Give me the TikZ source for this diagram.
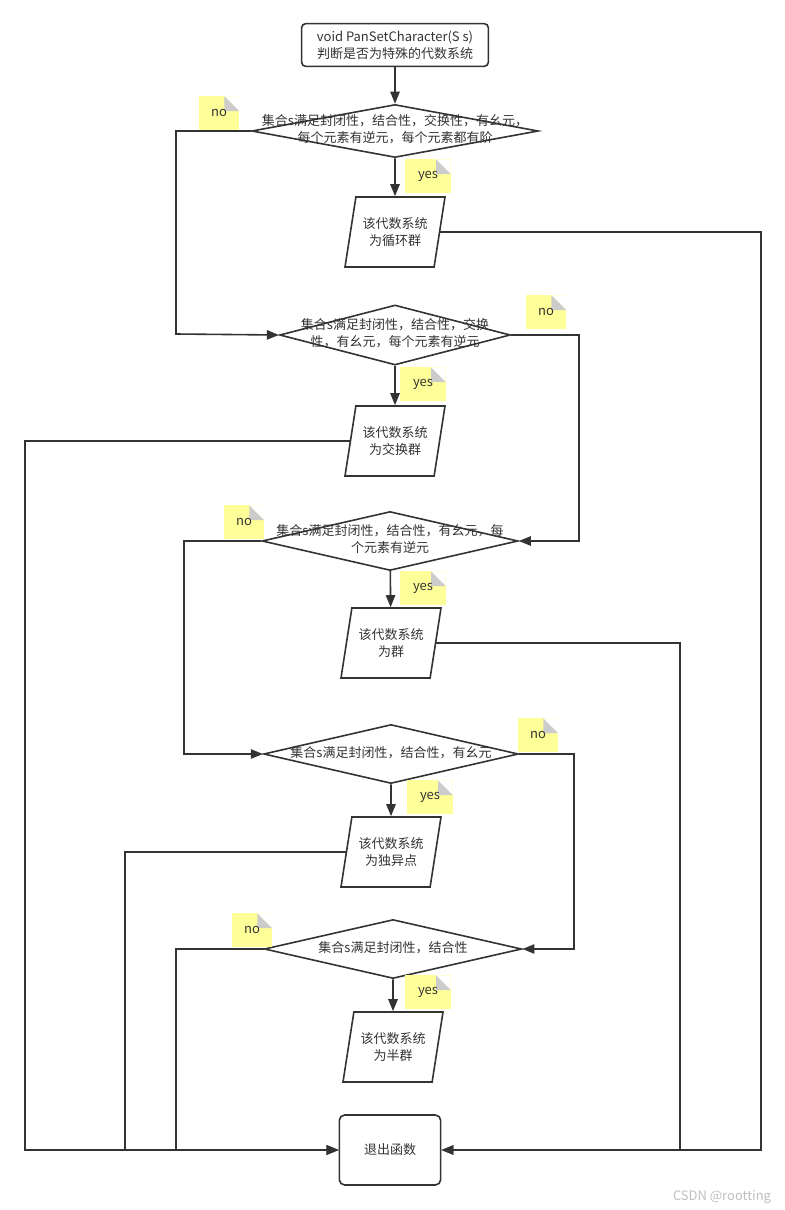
\documentclass[tikz,border=0pt]{standalone}
\usepackage{fontspec}
\setmainfont{Noto Sans CJK SC}
\usetikzlibrary{shapes.geometric,arrows.meta}

\definecolor{linegray}{HTML}{333333}
\definecolor{noteyellow}{HTML}{FFFF99}
\definecolor{foldgray}{HTML}{CCCCCC}

% text of a decision, kept out of the shape size
\newcommand{\dtext}[1]{\makebox[0pt]{\smash{\raisebox{-2.5pt}{\begin{tabular}{@{}c@{}}#1\end{tabular}}}}}

\begin{document}
\begin{tikzpicture}[x=0.75pt,y=-0.75pt,line width=1.2pt,color=linegray,
        every node/.style = {text=linegray, align=center,
            font=\fontsize{9.75pt}{12.75pt}\selectfont},
        arr/.style = {-{Triangle[length=9pt,width=7pt]}},
        startbox/.style = {draw, rounded corners=3pt, minimum width=140pt, minimum height=32pt},
        endbox/.style = {draw, rounded corners=4pt, minimum width=76pt, minimum height=52.5pt},
        decision/.style = {draw, diamond, inner sep=0pt, minimum height=44.25pt},
        iobox/.style = {draw, trapezium, trapezium left angle=74, trapezium right angle=106,
            trapezium stretches body, minimum width=75pt, minimum height=52.5pt},
        notebox/.style = {fill=noteyellow, inner sep=0pt, minimum height=25pt,
            path picture={
                \fill[white] ([xshift=-11pt]path picture bounding box.north east)
                    -- (path picture bounding box.north east)
                    -- ([yshift=-11pt]path picture bounding box.north east) -- cycle;
                \fill[foldgray] ([xshift=-11pt]path picture bounding box.north east)
                    |- ([yshift=-11pt]path picture bounding box.north east) -- cycle;}},
        nonote/.style = {notebox, minimum width=30pt},
        yesnote/.style = {notebox, minimum width=34pt}]
    \useasboundingbox (0,0) rectangle (785,1210);

    \node[startbox] (start) at (395,45) {void PanSetCharacter(S s)\\判断是否为特殊的代数系统};

    % decisions
    \node[decision, minimum width=215pt, minimum height=39.75pt] (d1) at (395,131)
        {\dtext{集合s满足封闭性，结合性，交换性，有幺元，\\每个元素有逆元，每个元素都有阶}};
    \node[decision, minimum width=173pt, minimum height=45pt] (d2) at (395,335)
        {\dtext{集合s满足封闭性，结合性，交换\\性，有幺元，每个元素有逆元}};
    \node[decision, minimum width=192pt] (d3) at (390,541)
        {\dtext{集合s满足封闭性，结合性，有幺元，每\\个元素有逆元}};
    \node[decision, minimum width=191pt] (d4) at (391,754)
        {\dtext{集合s满足封闭性，结合性，有幺元}};
    \node[decision, minimum width=193pt] (d5) at (393,949)
        {\dtext{集合s满足封闭性，结合性}};

    % results
    \node[iobox] (p1) at (395,232) {该代数系统\\为循环群};
    \node[iobox] (p2) at (395,441) {该代数系统\\为交换群};
    \node[iobox] (p3) at (391,643) {该代数系统\\为群};
    \node[iobox] (p4) at (391,852) {该代数系统\\为独异点};
    \node[iobox] (p5) at (393,1047) {该代数系统\\为半群};

    \node[endbox] (exit) at (390,1150) {退出函数};

    % notes
    \node[nonote] (no1) at (219,113) {no};
    \node[nonote] (no2) at (546,312) {no};
    \node[nonote] (no3) at (244,522) {no};
    \node[nonote] (no4) at (538,735) {no};
    \node[nonote] (no5) at (252,930) {no};
    \node[yesnote] (yes1) at (428,176) {yes};
    \node[yesnote] (yes2) at (423,384) {yes};
    \node[yesnote] (yes3) at (423,588) {yes};
    \node[yesnote] (yes4) at (430,797) {yes};
    \node[yesnote] (yes5) at (428,992) {yes};

    % flow
    \draw[arr] (start) -- (d1);
    \draw[arr] (d1) -- (p1);
    \draw[arr] (d1.west) -| (176,334) -- (d2.west);
    \draw[arr] (p1.east) -| (761,1150) -- (exit.east);
    \draw[arr] (d2) -- (p2);
    \draw[arr] (d2.east) -| (579,541) -- (d3.east);
    \draw[arr] (p2.west) -| (25,1150) -- (exit.west);
    \draw[arr] (d3) -- (p3);
    \draw[arr] (d3.west) -| (184,754) -- (d4.west);
    \draw[arr] (p3.east) -| (680,1150) -- (exit.east);
    \draw[arr] (d4) -- (p4);
    \draw[arr] (d4.east) -| (574,949) -- (d5.east);
    \draw[arr] (p4.west) -| (125,1150) -- (exit.west);
    \draw[arr] (d5) -- (p5);
    \draw[arr] (d5.west) -| (176,1150) -- (exit.west);

    \node[text=black!25] (mark) at (722,1197) {CSDN @rootting};
\end{tikzpicture}
\end{document}
